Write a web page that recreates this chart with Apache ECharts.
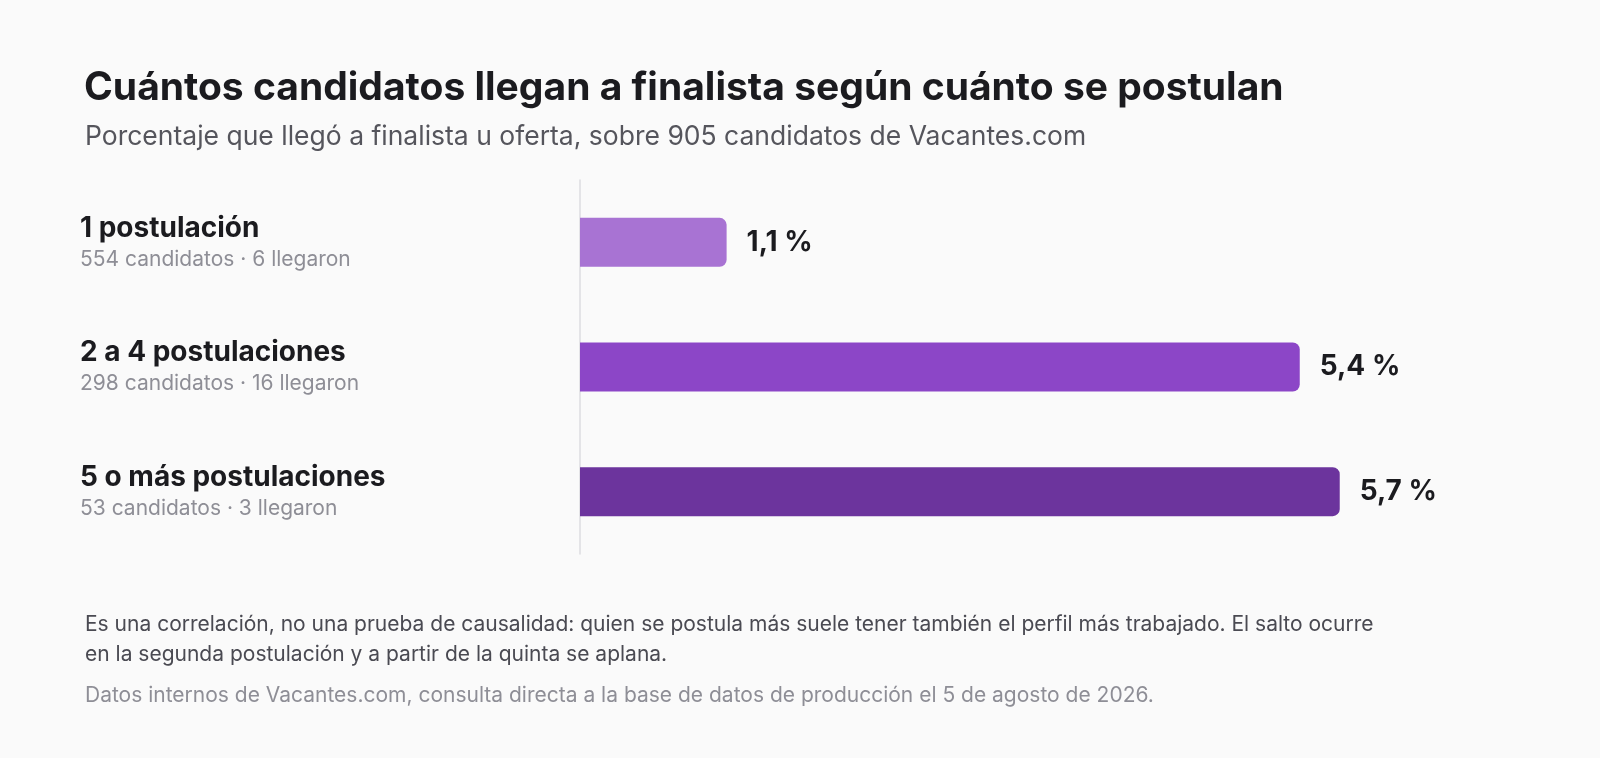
<!DOCTYPE html>
<html><head><meta charset="utf-8">
<script src="https://cdn.jsdelivr.net/npm/echarts@6/dist/echarts.min.js"></script>
<style>html,body{margin:0;background:#fafafa}#c{width:1600px;height:758px}</style></head>
<body><div id="c"></div>
<script>
const categories = ["1 postulación","2 a 4 postulaciones","5 o más postulaciones"];
const subtitles = ["554 candidatos · 6 llegaron","298 candidatos · 16 llegaron","53 candidatos · 3 llegaron"];
const values = [1.1, 5.4, 5.7];
const colors = ["#a873d3","#8c46c7","#6c349d"];
const F = "Inter, 'Noto Sans', sans-serif";
const chart = echarts.init(document.getElementById('c'));
chart.setOption({
  backgroundColor:'#fafafa',
  textStyle:{fontFamily:F},
  title:[
    {text:'Cuántos candidatos llegan a finalista según cuánto se postulan',left:79,top:64,textStyle:{fontFamily:F,fontSize:39,fontWeight:'bold',color:'#1b1b1f'}},
    {text:'Porcentaje que llegó a finalista u oferta, sobre 905 candidatos de Vacantes.com',left:80,top:119,textStyle:{fontFamily:F,fontSize:26.5,fontWeight:'normal',color:'#55555c'}},
    {text:'Es una correlación, no una prueba de causalidad: quien se postula más suele tener también el perfil más trabajado. El salto ocurre\nen la segunda postulación y a partir de la quinta se aplana.',left:80,top:605,textStyle:{fontFamily:F,fontSize:21,fontWeight:'normal',color:'#4a4a52',lineHeight:30}},
    {text:'Datos internos de Vacantes.com, consulta directa a la base de datos de producción el 5 de agosto de 2026.',left:80,top:680,textStyle:{fontFamily:F,fontSize:21,fontWeight:'normal',color:'#8e8e96'}}
  ],
  grid:{left:580,right:87,top:180,bottom:204},
  xAxis:{type:'value',min:0,max:7,show:false},
  yAxis:{type:'category',inverse:true,data:categories,
    axisLine:{show:true,lineStyle:{color:'#dcdce0',width:1.5}},axisTick:{show:false},
    axisLabel:{align:'left',margin:500,formatter:(v,i)=>'{a|'+v+'}\n{b|'+subtitles[i]+'}',
      rich:{a:{fontFamily:F,fontSize:28,fontWeight:'bold',color:'#1b1b1f',lineHeight:34},
            b:{fontFamily:F,fontSize:21,color:'#8e8e96',lineHeight:28}}}},
  series:[{type:'bar',barWidth:49,
    data:values.map((v,i)=>({value:v,itemStyle:{color:colors[i]}})),
    itemStyle:{borderRadius:[0,7,7,0]},
    label:{show:true,position:'right',distance:20,fontFamily:F,fontSize:28,fontWeight:'bold',color:'#1b1b1f',
      formatter:p=>p.value.toFixed(1).replace('.',',')+' %'}}]
});
</script></body></html>
